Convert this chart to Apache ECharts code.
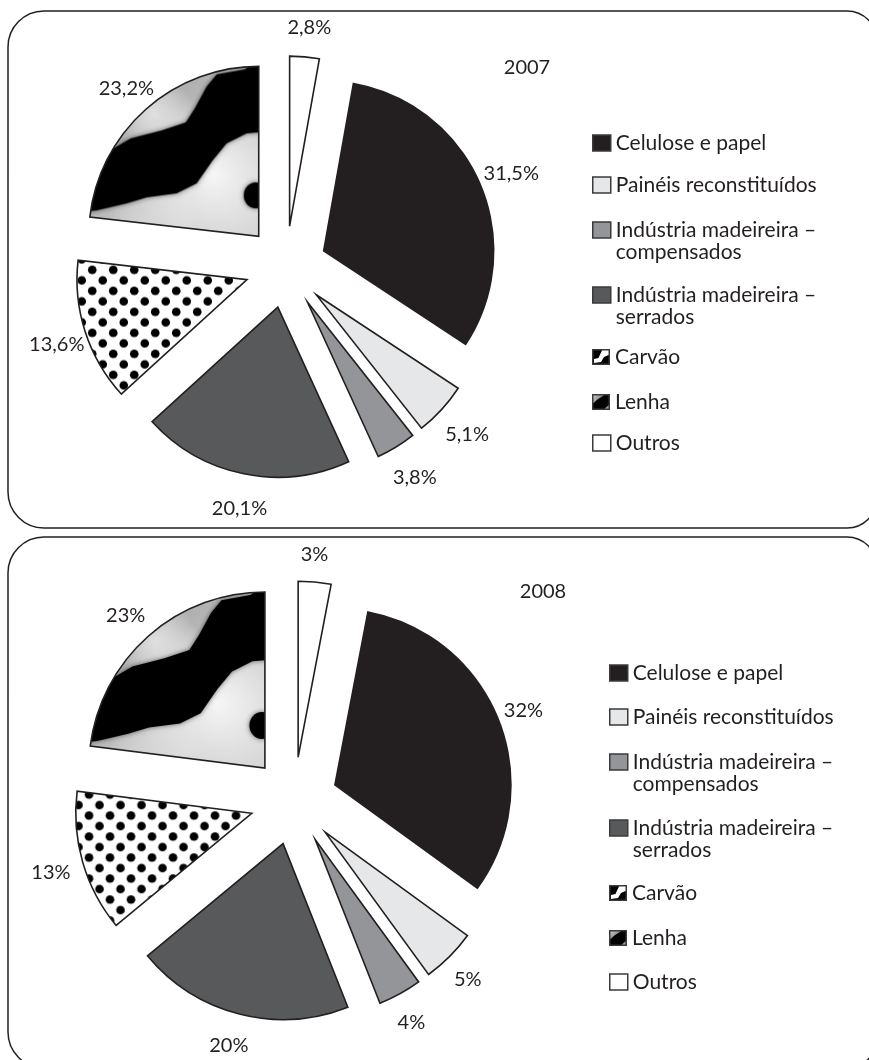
<!DOCTYPE html>
<html>
<head>
<meta charset="utf-8">
<script src="https://cdn.jsdelivr.net/npm/echarts@6/dist/echarts.min.js"></script>
<style>
  html, body { margin: 0; padding: 0; background: #ffffff; }
  #chart { width: 869px; height: 1060px; }
</style>
</head>
<body>
<div id="chart"></div>
<script>
// ---- data ----
const categories = [
  'Celulose e papel',
  'Painéis reconstituídos',
  'Indústria madeireira – compensados',
  'Indústria madeireira – serrados',
  'Carvão',
  'Lenha',
  'Outros'
];
const years = ['2007', '2008'];
const shares2007 = [31.5, 5.1, 3.8, 20.1, 13.6, 23.2, 2.8];
const shares2008 = [32, 5, 4, 20, 13, 23, 3];

// ---- style ----
const INK = '#231f20';
const FONT = 'Lato, "Open Sans", sans-serif';

// halftone dots (staggered rows)
function dotTile() {
  const T = 21;
  const c = document.createElement('canvas');
  c.width = T; c.height = T;
  const g = c.getContext('2d');
  g.fillStyle = '#ffffff'; g.fillRect(0, 0, T, T);
  g.fillStyle = '#000000';
  [[T / 4, T / 4], [3 * T / 4, 3 * T / 4]].forEach(([x, y]) => {
    g.beginPath(); g.arc(x, y, 4.3, 0, Math.PI * 2); g.fill();
  });
  return c;
}

// marbled black / grey texture, drawn around the vertex of the slice
function marbleCanvas(R) {
  const s = R / 170;
  const S = Math.ceil(2 * R + 60);
  const o = S / 2;
  const c = document.createElement('canvas');
  c.width = S; c.height = S;
  const g = c.getContext('2d');
  const P = (x, y) => [o + x * s, o + y * s];
  const lg = g.createLinearGradient(...P(-170, -170), ...P(0, -10));
  lg.addColorStop(0, '#8e8e8e');
  lg.addColorStop(0.5, '#bdbdbd');
  lg.addColorStop(1, '#d2d2d2');
  g.fillStyle = lg; g.fillRect(0, 0, S, S);
  const glow = (x, y, r, col) => {
    const [cx, cy] = P(x, y);
    const rg = g.createRadialGradient(cx, cy, 0, cx, cy, r * s);
    rg.addColorStop(0, col);
    rg.addColorStop(1, 'rgba(255,255,255,0)');
    g.fillStyle = rg; g.fillRect(0, 0, S, S);
  };
  glow(-45, -62, 80, 'rgba(248,248,248,0.95)');
  glow(-105, -122, 40, 'rgba(228,228,228,0.9)');
  glow(-105, -18, 45, 'rgba(225,225,225,0.6)');

  const band = [
    [-200, -80], [-152, -84], [-128, -98], [-97, -106], [-73, -114], [-64, -128],
    [-52, -150], [-42, -162], [-14, -167], [-7, -172], [-7, -200], [30, -200],
    [30, -104], [0, -104], [-12, -103], [-32, -93], [-46, -76], [-62, -53],
    [-82, -43], [-112, -39], [-132, -33], [-162, -26], [-200, -22]
  ];
  g.shadowColor = 'rgba(0,0,0,0.55)';
  g.shadowBlur = 5 * s;
  g.fillStyle = '#000000';
  g.beginPath();
  band.forEach((p, i) => { const [x, y] = P(p[0], p[1]); i ? g.lineTo(x, y) : g.moveTo(x, y); });
  g.closePath(); g.fill();
  const [bx, by] = P(-3, -41);
  g.beginPath(); g.ellipse(bx, by, 12 * s, 13 * s, 0, 0, Math.PI * 2); g.fill();
  return { canvas: c, half: o };
}

function iconImage(draw) {
  const c = document.createElement('canvas');
  c.width = 36; c.height = 32;
  const g = c.getContext('2d');
  draw(g);
  g.strokeStyle = '#3a3a3a'; g.lineWidth = 3;
  g.strokeRect(1.5, 1.5, 33, 29);
  return 'image://' + c.toDataURL();
}
const carvaoIcon = iconImage(g => {
  g.fillStyle = '#000'; g.fillRect(0, 0, 36, 32);
  g.fillStyle = '#fff';
  g.beginPath();
  g.moveTo(20, 3); g.lineTo(33, 3); g.lineTo(33, 12); g.lineTo(24, 16);
  g.lineTo(18, 26); g.lineTo(4, 28); g.lineTo(4, 20); g.lineTo(13, 18); g.lineTo(17, 9);
  g.closePath(); g.fill();
});
const lenhaIcon = iconImage(g => {
  g.fillStyle = '#000'; g.fillRect(0, 0, 36, 32);
  const lg = g.createLinearGradient(0, 0, 20, 18);
  lg.addColorStop(0, '#d8d8d8'); lg.addColorStop(1, '#6a6a6a');
  g.fillStyle = lg;
  g.beginPath(); g.moveTo(0, 0); g.lineTo(30, 0); g.bezierCurveTo(18, 6, 10, 10, 0, 22); g.closePath(); g.fill();
  g.fillStyle = '#9a9a9a';
  g.beginPath(); g.moveTo(36, 20); g.lineTo(36, 32); g.lineTo(22, 32); g.closePath(); g.fill();
});

const dots = dotTile();

// one panel per year: geometry of the pie, its labels, title and legend column
const panels = [
  { year: years[0], values: shares2007, center: [286, 267], radius: 170, offset: 41,
    labelCenter: [288, 270], labelRadius: 240,
    box: [8, 11, 869, 517], title: [527, 68], legendX: 592,
    legendY: [143, 185, 230, 295, 357, 402, 443] },
  { year: years[1], values: shares2008, center: [294, 801], radius: 176, offset: 44,
    labelCenter: [291, 803], labelRadius: 247,
    box: [8, 537, 869, 531], title: [543, 592], legendX: 609,
    legendY: [673, 717, 762, 828, 893, 938, 982] }
];

function fillsFor(panel) {
  const m = marbleCanvas(panel.radius);
  return [
    INK, '#e6e7e8', '#939598', '#58595b',
    { image: dots, repeat: 'repeat' },
    { image: m.canvas, repeat: 'no-repeat', x: panel.center[0] - m.half, y: panel.center[1] - m.half },
    '#ffffff'
  ];
}

const legendIcons = ['rect', 'rect', 'rect', 'rect', carvaoIcon, lenhaIcon, 'rect'];
const legendFills = [INK, '#e6e7e8', '#939598', '#58595b', '#000000', '#000000', '#ffffff'];

const series = [];
const legends = [];
const graphics = [];

panels.forEach(panel => {
  const fills = fillsFor(panel);
  const last = panel.values[panel.values.length - 1];
  const startAngle = 90 - last * 3.6;   // "Outros" closes the circle at 12 o'clock

  series.push({
    type: 'pie',
    center: panel.center,
    radius: panel.radius,
    startAngle: startAngle,
    clockwise: true,
    selectedMode: 'multiple',
    selectedOffset: panel.offset,
    avoidLabelOverlap: false,
    silent: true,
    animation: false,
    label: { show: false },
    labelLine: { show: false },
    emphasis: { disabled: true },
    itemStyle: { borderColor: INK, borderWidth: 1.6, borderJoin: 'miter' },
    data: categories.map((name, i) => ({
      name: name,
      value: panel.values[i],
      selected: true,
      itemStyle: { color: fills[i] }
    }))
  });

  // transparent ring that only carries the percentage labels
  series.push({
    type: 'pie',
    center: panel.labelCenter,
    radius: [panel.labelRadius - 12, panel.labelRadius + 12],
    startAngle: startAngle,
    clockwise: true,
    silent: true,
    animation: false,
    avoidLabelOverlap: false,
    itemStyle: { color: 'rgba(0,0,0,0)', borderWidth: 0 },
    emphasis: { disabled: true },
    labelLine: { show: false },
    label: {
      show: true,
      position: 'inside',
      rotate: 0,
      color: INK,
      fontFamily: FONT,
      fontSize: 20,
      formatter: p => String(p.value).replace('.', ',') + '%'
    },
    data: categories.map((name, i) => ({ name: name, value: panel.values[i] }))
  });

  categories.forEach((name, i) => {
    const twoLine = name.indexOf(' – ') >= 0;
    legends.push({
      orient: 'vertical',
      left: panel.legendX,
      top: panel.legendY[i] - (twoLine ? 33 : 11),
      padding: 0,
      itemWidth: 18,
      itemHeight: 16,
      itemGap: 0,
      selectedMode: false,
      data: [{
        name: name,
        icon: legendIcons[i],
        itemStyle: { color: legendFills[i], borderColor: '#3a3a3a', borderWidth: 1.5 }
      }],
      formatter: n => twoLine ? '\n' + n.replace(' – ', ' –\n') : n,
      textStyle: { fontFamily: FONT, fontSize: 21, color: INK, lineHeight: 22 }
    });
  });

  const [bx, by, bw, bh] = panel.box;
  graphics.push({
    type: 'rect',
    silent: true,
    shape: { x: bx, y: by, width: bw, height: bh, r: [36, 30, 30, 36] },
    style: { fill: 'none', stroke: INK, lineWidth: 1.5 }
  });
  graphics.push({
    type: 'text',
    silent: true,
    x: panel.title[0],
    y: panel.title[1],
    style: { text: panel.year, fill: INK, fontFamily: FONT, fontSize: 20, align: 'center', verticalAlign: 'middle' }
  });
});

const chart = echarts.init(document.getElementById('chart'), null, { renderer: 'canvas' });
chart.setOption({
  backgroundColor: '#ffffff',
  animation: false,
  legend: legends,
  graphic: { elements: graphics },
  series: series
});
</script>
</body>
</html>
